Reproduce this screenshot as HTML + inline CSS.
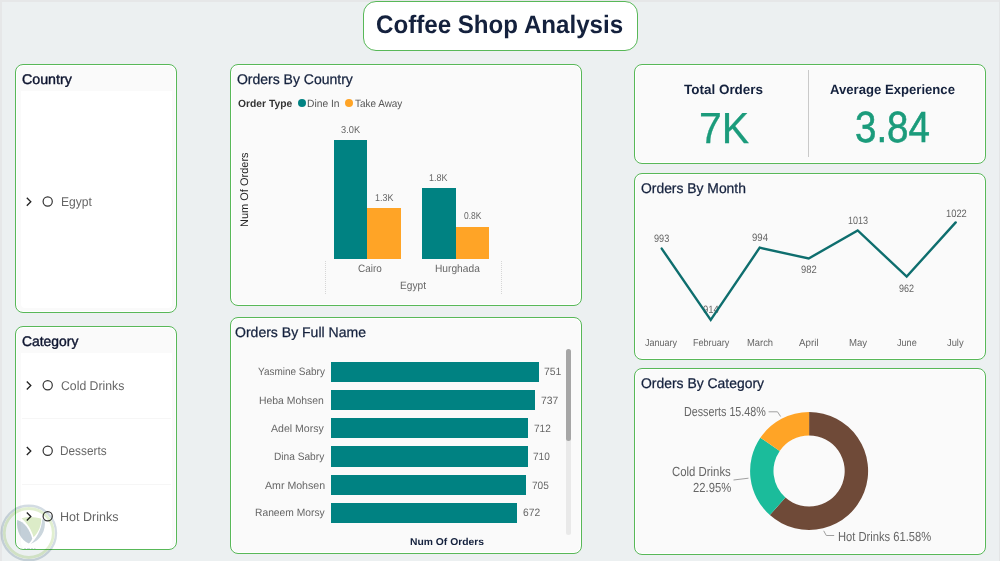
<!DOCTYPE html>
<html>
<head>
<meta charset="utf-8">
<title>Coffee Shop Analysis</title>
<style>
*{box-sizing:border-box;margin:0;padding:0}
html,body{width:1000px;height:561px;overflow:hidden}
body{background:#ecf0f1;font-family:"Liberation Sans",sans-serif;position:relative;color:#14213d}
.panel{position:absolute;background:#fafafa;border:1px solid #58b858;border-radius:8px;box-shadow:inset 0 0 0 1px #fff}
.t{position:absolute;white-space:nowrap;line-height:1;transform-origin:0 0;text-rendering:geometricPrecision}
.ttl{font-size:14px;color:#14213d;-webkit-text-stroke:0.25px #14213d}
.g{color:#666}
.c{transform:translateX(-50%)}
.r{transform:translateX(-100%)}
.white{position:absolute;background:#fff}
.ring{position:absolute;width:10px;height:10px;border:1.3px solid #333;border-radius:50%}
svg{position:absolute;left:0;top:0;overflow:visible}
</style>
</head>
<body>

<div style="position:absolute;left:0;top:0;width:1000px;height:1.5px;background:#e6e7e8"></div>
<div style="position:absolute;left:0;top:0;width:1.5px;height:561px;background:#e6e7e8"></div>
<div style="position:absolute;left:999px;top:0;width:1px;height:561px;background:#e3e5e6"></div>
<!-- Title -->
<div class="panel" style="left:363px;top:1px;width:275px;height:50px;background:#fff;border-radius:13px"></div>
<div class="t" id="title" style="left:375.88px;top:13.34px;font-size:25.28px;transform:scaleX(0.955);font-weight:bold;color:#14213d">Coffee Shop Analysis</div>

<!-- Country slicer -->
<div class="panel" style="left:15px;top:64px;width:162px;height:249px"></div>
<div class="white" style="left:21px;top:91px;width:151px;height:217px;border-radius:0 0 4px 4px"></div>
<div class="t ttl" id="t_country" style="font-size:14.07px;transform:scaleX(1.012);left:21.86px;top:72.15px;color:#0e1530;-webkit-text-stroke:0.4px #0e1530">Country</div>
<div class="t g" id="egypt" style="left:60.76px;top:196.45px;font-size:12.7px;transform:scaleX(0.954)">Egypt</div>

<!-- Category slicer -->
<div class="panel" style="left:15px;top:326px;width:162px;height:224px"></div>
<div class="white" style="left:21px;top:353px;width:151px;height:196px;border-radius:0 0 6px 6px"></div>
<div class="t ttl" id="t_category" style="font-size:14.01px;transform:scaleX(0.992);left:22.21px;top:333.88px;color:#0e1530;-webkit-text-stroke:0.4px #0e1530">Category</div>
<div class="t g" id="c1" style="left:60.73px;top:379.96px;font-size:12.71px;transform:scaleX(0.965)">Cold Drinks</div>
<div class="t g" id="c2" style="left:59.79px;top:445.15px;font-size:12.71px;transform:scaleX(0.929)">Desserts</div>
<div class="t g" id="c3" style="left:60.41px;top:510.96px;font-size:12.71px;transform:scaleX(0.986)">Hot Drinks</div>

<svg width="1000" height="561">
<polyline points="26.8,197.8 30.8,201.8 26.8,205.8" fill="none" stroke="#222" stroke-width="1.3"/>
<circle cx="47.7" cy="201.5" r="4.6" fill="none" stroke="#333" stroke-width="1.2"/>
<polyline points="26.8,381.5 30.8,385.5 26.8,389.5" fill="none" stroke="#222" stroke-width="1.3"/>
<circle cx="47.7" cy="385.2" r="4.6" fill="none" stroke="#333" stroke-width="1.2"/>
<polyline points="26.8,447.0 30.8,451.0 26.8,455.0" fill="none" stroke="#222" stroke-width="1.3"/>
<circle cx="47.7" cy="450.7" r="4.6" fill="none" stroke="#333" stroke-width="1.2"/>
<polyline points="26.8,512.5 30.8,516.5 26.8,520.5" fill="none" stroke="#222" stroke-width="1.3"/>
<circle cx="47.7" cy="516.2" r="4.6" fill="none" stroke="#333" stroke-width="1.2"/>
</svg>
<div style="position:absolute;left:22px;top:418px;width:149px;height:1px;background:#f6f6f6"></div>
<div style="position:absolute;left:22px;top:484px;width:149px;height:1px;background:#f6f6f6"></div>
<svg width="1000" height="561" style="mix-blend-mode:multiply">
<circle cx="28.8" cy="533" r="27.2" fill="none" stroke="#d3dce3" stroke-width="2.4"/>
<circle cx="28.8" cy="533" r="24.5" fill="none" stroke="#e1efd0" stroke-width="2.8"/>
<path d="M21.5,518.2 Q31,515.4 41.2,518.6 C41.6,526 38.2,533 33.6,537.2 C31.6,530 27.2,523 21.5,518.2 Z" fill="#dcecc8"/>
<path d="M17.2,519.9 C24,521.6 30,529.5 32.2,538.6 C31.7,540.6 30.4,542.4 28.8,543.4 C21,540 16,531 17.2,519.9 Z" fill="#c3cfd8"/>
<path d="M44.6,519.8 C46.4,530.5 40.5,540.5 30.6,544 C36.6,538.4 41.4,530 42.2,519.2 Z" fill="#cbd6dd"/>
<path d="M24,548.5 h2 m1,0 h3 m1,0 h2 m1,0 h1.5" stroke="#d5dde2" stroke-width="1.2" fill="none"/>
</svg>

<!-- Orders by Country -->
<div class="panel" style="left:230px;top:64px;width:352px;height:242px"></div>
<div class="t ttl" id="t_obc" style="font-size:14.01px;transform:scaleX(1.0);left:236.95px;top:72.48px">Orders By Country</div>
<div class="t" id="lg0" style="left:237.55px;top:98.52px;font-size:10.54px;transform:scaleX(0.979);font-weight:bold;color:#333">Order Type</div>
<div style="position:absolute;left:298px;top:99px;width:8px;height:8px;border-radius:50%;background:#008282"></div>
<div class="t" id="lg1" style="left:307.18px;top:98.52px;font-size:10.55px;transform:scaleX(0.974);color:#555">Dine In</div>
<div style="position:absolute;left:345px;top:99px;width:8px;height:8px;border-radius:50%;background:#ffa426"></div>
<div class="t" id="lg2" style="left:354.82px;top:98.52px;font-size:10.55px;transform:scaleX(0.942);color:#555">Take Away</div>
<!-- bars -->
<div style="position:absolute;left:334px;top:139.5px;width:33.4px;height:119.5px;background:#008282"></div>
<div style="position:absolute;left:367.4px;top:208px;width:33.4px;height:51px;background:#ffa426"></div>
<div style="position:absolute;left:422.3px;top:188px;width:33.4px;height:71px;background:#008282"></div>
<div style="position:absolute;left:455.7px;top:227px;width:33.5px;height:32px;background:#ffa426"></div>
<!-- data labels -->
<div class="t g" id="b1" style="left:341.02px;top:125.63px;font-size:9.94px;transform:scaleX(0.935)">3.0K</div>
<div class="t g" id="b2" style="left:375.42px;top:193.84px;font-size:9.94px;transform:scaleX(0.903)">1.3K</div>
<div class="t g" id="b3" style="left:429.4px;top:173.54px;font-size:9.84px;transform:scaleX(0.909)">1.8K</div>
<div class="t g" id="b4" style="left:463.72px;top:212.24px;font-size:9.94px;transform:scaleX(0.854)">0.8K</div>
<!-- axis labels -->
<div class="t g" id="x1" style="left:357.65px;top:264.43px;font-size:10.72px;transform:scaleX(0.928)">Cairo</div>
<div class="t g" id="x2" style="left:434.94px;top:264.43px;font-size:10.72px;transform:scaleX(0.952)">Hurghada</div>
<div class="t g" id="x3" style="left:400.39px;top:280.63px;font-size:10.72px;transform:scaleX(0.947)">Egypt</div>
<div style="position:absolute;left:325px;top:261px;width:0;height:33px;border-left:1px dotted #d6d6d6"></div>
<div style="position:absolute;left:501px;top:261px;width:0;height:33px;border-left:1px dotted #d6d6d6"></div>
<div class="t" id="yl" style="left:240.4px;top:226.6px;font-size:11px;color:#222;transform:rotate(-90deg);transform-origin:0 0">Num Of Orders</div>

<!-- Orders by Full Name -->
<div class="panel" style="left:230px;top:317px;width:352px;height:237px"></div>
<div class="t ttl" id="t_obf" style="font-size:14.01px;transform:scaleX(1.002);left:235.26px;top:324.87px">Orders By Full Name</div>
<div style="position:absolute;left:331px;top:361.5px;width:208.1px;height:20.2px;background:#008282"></div>
<div class="t g" id="n0" style="left:258.2px;top:366.93px;font-size:10.65px;transform:scaleX(0.938)">Yasmine Sabry</div>
<div class="t g" id="v0" style="left:544.1px;top:366.93px;font-size:10.65px;transform:scaleX(0.98)">751</div>
<div style="position:absolute;left:331px;top:389.7px;width:204.2px;height:20.2px;background:#008282"></div>
<div class="t g" id="n1" style="left:259.42px;top:395.82px;font-size:10.66px;transform:scaleX(0.977)">Heba Mohsen</div>
<div class="t g" id="v1" style="left:540.96px;top:395.82px;font-size:10.65px;transform:scaleX(0.971)">737</div>
<div style="position:absolute;left:331px;top:418.1px;width:197.3px;height:20.2px;background:#008282"></div>
<div class="t g" id="n2" style="left:271.33px;top:424.32px;font-size:10.7px;transform:scaleX(0.987)">Adel Morsy</div>
<div class="t g" id="v2" style="left:533.95px;top:424.32px;font-size:10.7px;transform:scaleX(0.944)">712</div>
<div style="position:absolute;left:331px;top:446.4px;width:196.7px;height:20.2px;background:#008282"></div>
<div class="t g" id="n3" style="left:273.81px;top:451.92px;font-size:10.65px;transform:scaleX(0.954)">Dina Sabry</div>
<div class="t g" id="v3" style="left:532.66px;top:451.92px;font-size:10.7px;transform:scaleX(0.943)">710</div>
<div style="position:absolute;left:331px;top:474.7px;width:195.4px;height:20.2px;background:#008282"></div>
<div class="t g" id="n4" style="left:264.89px;top:480.82px;font-size:10.7px;transform:scaleX(0.992)">Amr Mohsen</div>
<div class="t g" id="v4" style="left:532.35px;top:480.82px;font-size:10.7px;transform:scaleX(0.945)">705</div>
<div style="position:absolute;left:331px;top:502.9px;width:186.2px;height:20.2px;background:#008282"></div>
<div class="t g" id="n5" style="left:255.39px;top:508.43px;font-size:10.65px;transform:scaleX(0.966)">Raneem Morsy</div>
<div class="t g" id="v5" style="left:522.72px;top:508.42px;font-size:10.65px;transform:scaleX(0.966)">672</div>
<div style="position:absolute;left:565.5px;top:349px;width:5px;height:186px;background:#e9e9e9;border-radius:2.5px"></div>
<div style="position:absolute;left:565.5px;top:349px;width:5px;height:92px;background:#a6a6a6;border-radius:2.5px"></div>
<div class="t" id="xl" style="left:409.57px;top:537.54px;font-size:9.95px;transform:scaleX(1.039);color:#14213d;font-weight:bold">Num Of Orders</div>

<!-- KPI -->
<div class="panel" style="left:634px;top:64px;width:352px;height:100px"></div>
<div style="position:absolute;left:807.5px;top:70px;width:1px;height:87px;background:#c9c9c9"></div>
<div class="t" id="k1" style="left:684.34px;top:82.82px;font-size:13.46px;transform:scaleX(1.001);font-weight:bold;color:#14213d">Total Orders</div>
<div class="t" id="k2" style="left:699.04px;top:107.7px;font-size:43.57px;transform:scaleX(0.941);color:#1b9b7b;-webkit-text-stroke:0.3px #1b9b7b">7K</div>
<div class="t" id="k3" style="left:830.36px;top:82.82px;font-size:13.46px;transform:scaleX(0.975);font-weight:bold;color:#14213d">Average Experience</div>
<div class="t" id="k4" style="left:855.28px;top:107.3px;font-size:43.53px;transform:scaleX(0.885);color:#1b9b7b;-webkit-text-stroke:0.6px #1b9b7b">3.84</div>

<!-- Orders by Month -->
<div class="panel" style="left:634px;top:173px;width:352px;height:187px"></div>
<div class="t ttl" id="t_obm" style="font-size:14.06px;transform:scaleX(0.988);left:641.34px;top:181.46px">Orders By Month</div>
<svg width="1000" height="561" style="z-index:2"><polyline points="661.7,248.6 710.7,319.9 759.7,247.7 808.7,258.5 857.7,230.5 906.7,276.6 955.7,222.4" fill="none" stroke="#0e6e6e" stroke-width="2.4" stroke-linejoin="miter" stroke-linecap="round"/></svg>
<div class="t g" id="lv0" style="left:653.83px;top:233.71px;font-size:10.66px;transform:scaleX(0.856)">993</div>
<div class="t g" id="mn0" style="left:645.49px;top:338.7px;font-size:10.1px;transform:scaleX(0.892)">January</div>
<div class="t g" id="lv1" style="left:703.49px;top:304.63px;font-size:10.65px;transform:scaleX(0.897)">914</div>
<div class="t g" id="mn1" style="left:692.88px;top:338.7px;font-size:10.11px;transform:scaleX(0.898)">February</div>
<div class="t g" id="lv2" style="left:751.98px;top:233.03px;font-size:10.65px;transform:scaleX(0.902)">994</div>
<div class="t g" id="mn2" style="left:747.03px;top:338.7px;font-size:10.06px;transform:scaleX(0.935)">March</div>
<div class="t g" id="lv3" style="left:801.24px;top:264.63px;font-size:10.65px;transform:scaleX(0.888)">982</div>
<div class="t g" id="mn3" style="left:798.82px;top:338.7px;font-size:10.1px;transform:scaleX(0.968)">April</div>
<div class="t g" id="lv4" style="left:847.99px;top:215.93px;font-size:10.65px;transform:scaleX(0.846)">1013</div>
<div class="t g" id="mn4" style="left:848.93px;top:338.7px;font-size:10.06px;transform:scaleX(0.956)">May</div>
<div class="t g" id="lv5" style="left:898.96px;top:283.82px;font-size:10.65px;transform:scaleX(0.848)">962</div>
<div class="t g" id="mn5" style="left:897.21px;top:338.7px;font-size:10.1px;transform:scaleX(0.899)">June</div>
<div class="t g" id="lv6" style="left:945.94px;top:208.82px;font-size:10.66px;transform:scaleX(0.878)">1022</div>
<div class="t g" id="mn6" style="left:947.49px;top:338.7px;font-size:10.07px;transform:scaleX(0.927)">July</div>

<!-- Orders by Category -->
<div class="panel" style="left:634px;top:368px;width:352px;height:187px"></div>
<div class="t ttl" id="t_obcat" style="font-size:14.02px;transform:scaleX(0.993);left:641.42px;top:375.74px">Orders By Category</div>
<svg width="1000" height="561">
<path d="M809.10,412.00 A59,59 0 1 1 769.86,515.06 L785.42,497.59 A35.6,35.6 0 1 0 809.10,435.40 Z" fill="#6f4a38"/>
<path d="M769.86,515.06 A59,59 0 0 1 760.36,437.75 L779.69,450.93 A35.6,35.6 0 0 0 785.42,497.59 Z" fill="#1bbc9b"/>
<path d="M760.36,437.75 A59,59 0 0 1 809.10,412.00 L809.10,435.40 A35.6,35.6 0 0 0 779.69,450.93 Z" fill="#ffa426"/>
<polyline points="768.6,411.8 777.5,411.8 780.6,416.5" fill="none" stroke="#a0a0a0" stroke-width="1"/>
<polyline points="733.5,480 748.5,478.2" fill="none" stroke="#a0a0a0" stroke-width="1"/>
<polyline points="823.7,530.8 826.3,535.5 834.2,535.5" fill="none" stroke="#a0a0a0" stroke-width="1"/>
</svg>
<div class="t g" id="d1" style="left:683.93px;top:405.4px;font-size:13.25px;transform:scaleX(0.811)">Desserts 15.48%</div>
<div class="t g" id="d2" style="left:672.31px;top:465.0px;font-size:13.25px;transform:scaleX(0.858)">Cold Drinks</div>
<div class="t g" id="d3" style="left:693.1px;top:481.1px;font-size:13.22px;transform:scaleX(0.851)">22.95%</div>
<div class="t g" id="d4" style="left:837.9px;top:529.5px;font-size:13.25px;transform:scaleX(0.844)">Hot Drinks 61.58%</div>

</body>
</html>
